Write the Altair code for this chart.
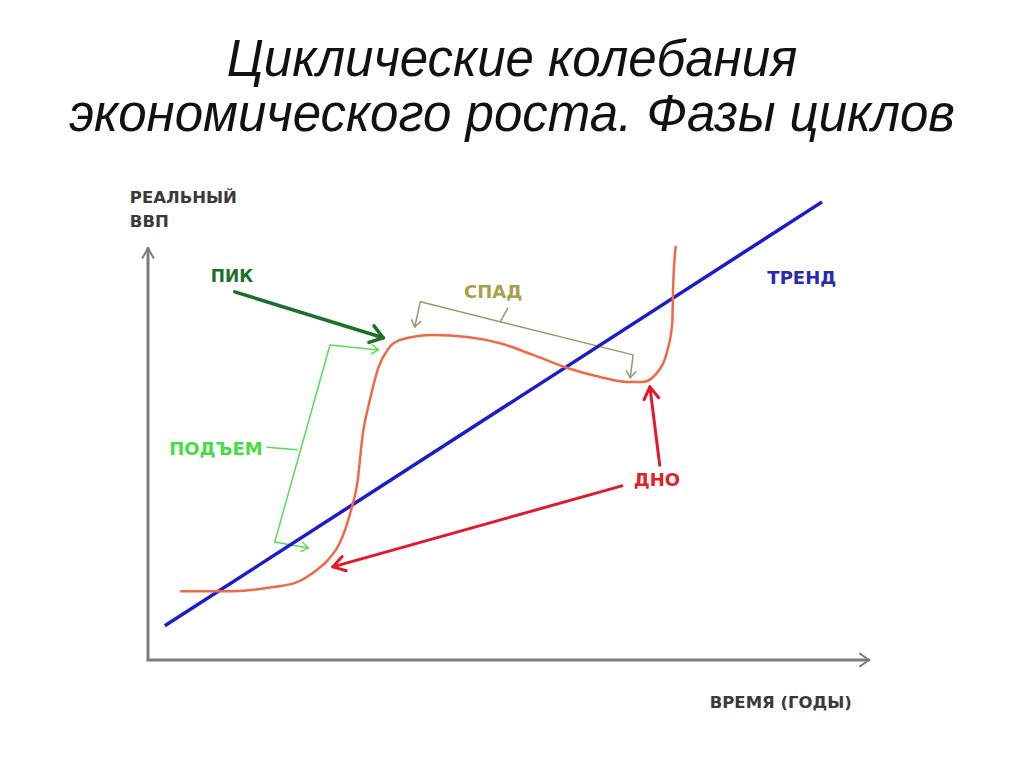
import math
import altair as alt
import pandas as pd

# ---------------- data (time units, real-GDP units) ----------------
TITLE = ["Циклические колебания", "экономического роста. Фазы циклов"]

# business-cycle curve
cycle_t = [4.6, 12.1, 17.9, 21.3, 24.1, 25.7, 27.4, 28.9, 29.9, 30.7, 31.7, 32.9,
           34.3, 36.0, 40.7, 45.6, 50.3, 55.0, 59.9, 64.6, 68.4, 70.7, 72.7, 74.1,
           74.9, 75.0, 75.4]
cycle_g = [15.3, 15.3, 16.2, 17.3, 20.0, 22.2, 26.0, 32.7, 39.3, 50.4, 57.8, 64.9,
           69.1, 71.1, 72.2, 71.8, 70.4, 67.8, 64.9, 62.9, 61.8, 61.8, 63.8, 68.2,
           74.9, 82.2, 92.0]

# trend line
trend_t = [2.4, 96.3]
trend_g = [7.6, 101.8]

# axes
yaxis_t = [0, 0]
yaxis_g = [0, 91.5]
xaxis_t = [0, 103]
xaxis_g = [0, 0]

# annotation arrows / brackets (polylines)
peak_arrow_t = [12.4, 33.6]
peak_arrow_g = [81.8, 71.6]
trough_arrow1_t = [73.1, 71.7]
trough_arrow1_g = [43.3, 60.7]
trough_arrow2_t = [67.7, 26.4]
trough_arrow2_g = [38.7, 20.7]
rise_bracket_t = [32.9, 26.0, 18.1, 22.9]
rise_bracket_g = [68.9, 70.0, 26.2, 24.9]
rise_tick_t = [21.3, 17.0]
rise_tick_g = [46.7, 47.3]
fall_bracket_t = [38.1, 38.9, 69.3, 68.9]
fall_bracket_g = [74.0, 79.6, 67.8, 62.7]
fall_tick_t = [50.3, 51.4]
fall_tick_g = [75.1, 78.2]

# labels
label_text = ["ПИК", "ПОДЪЕМ", "СПАД", "ТРЕНД", "ДНО", "ВРЕМЯ (ГОДЫ)"]
label_t = [12.0, 9.7, 49.3, 93.4, 72.7, 90.4]
label_g = [85.1, 46.7, 81.5, 84.7, 39.8, -9.6]
label_color = ["#1f6e2b", "#44dd44", "#a9a04a", "#2a2ab0", "#e0202a", "#3a3a3a"]
label_size = [17, 18, 18, 18, 18, 16.5]
ylabel_lines = ["РЕАЛЬНЫЙ", "ВВП"]
ylabel_t = [-2.6, -2.6]
ylabel_g = [102.7, 97.3]

# ---------------- layout ----------------
W, H = 1008, 609
T_DOM = [-20, 124]
G_DOM = [-22, 113.33]
KX = W / (T_DOM[1] - T_DOM[0])
KY = H / (G_DOM[1] - G_DOM[0])

AXIS_C = "#7d7d7d"
PEAK_C = "#1f6e2b"
TROUGH_C = "#e3182d"
RISE_C = "#55dd55"
FALL_C = "#8f9c6e"
LABEL_FONT = "DejaVu Sans"

rows = []
gid = [0]


def poly(ts, gs, color, width):
    gid[0] += 1
    for i, (a, b) in enumerate(zip(ts, gs)):
        rows.append(dict(t=a, g=b, id=gid[0], o=i, c=color, w=width))


def head(ts, gs, color, width, length, ang=32, at_start=False):
    if at_start:
        tip_t, tip_g, fr_t, fr_g = ts[0], gs[0], ts[1], gs[1]
    else:
        tip_t, tip_g, fr_t, fr_g = ts[-1], gs[-1], ts[-2], gs[-2]
    dx = (tip_t - fr_t) * KX
    dy = (tip_g - fr_g) * KY
    n = math.hypot(dx, dy)
    ux, uy = dx / n, dy / n
    pts_t, pts_g = [], []
    for s in (1, -1):
        a = math.radians(ang) * s
        rx = ux * math.cos(a) - uy * math.sin(a)
        ry = ux * math.sin(a) + uy * math.cos(a)
        pts_t.append(tip_t - rx * length / KX)
        pts_g.append(tip_g - ry * length / KY)
    poly([pts_t[0], tip_t, pts_t[1]], [pts_g[0], tip_g, pts_g[1]], color, width)


poly(yaxis_t, yaxis_g, AXIS_C, 3)
head(yaxis_t, yaxis_g, AXIS_C, 2, 11, 30)
poly(xaxis_t, xaxis_g, AXIS_C, 3)
head(xaxis_t, xaxis_g, AXIS_C, 2, 11, 35)

poly(peak_arrow_t, peak_arrow_g, PEAK_C, 3.5)
head(peak_arrow_t, peak_arrow_g, PEAK_C, 3.5, 15, 35)
poly(trough_arrow1_t, trough_arrow1_g, TROUGH_C, 3)
head(trough_arrow1_t, trough_arrow1_g, TROUGH_C, 3, 14, 32)
poly(trough_arrow2_t, trough_arrow2_g, TROUGH_C, 3)
head(trough_arrow2_t, trough_arrow2_g, TROUGH_C, 3, 14, 32)

poly(rise_bracket_t, rise_bracket_g, RISE_C, 1.5)
head(rise_bracket_t, rise_bracket_g, RISE_C, 1.5, 8, 35)
head(rise_bracket_t, rise_bracket_g, RISE_C, 1.5, 8, 35, at_start=True)
poly(rise_tick_t, rise_tick_g, RISE_C, 1.5)

poly(fall_bracket_t, fall_bracket_g, FALL_C, 1.5)
head(fall_bracket_t, fall_bracket_g, FALL_C, 1.5, 8, 35)
head(fall_bracket_t, fall_bracket_g, FALL_C, 1.5, 8, 35, at_start=True)
poly(fall_tick_t, fall_tick_g, FALL_C, 1.5)

seg_df = pd.DataFrame(rows)
cycle_df = pd.DataFrame({"t": cycle_t, "g": cycle_g})
trend_df = pd.DataFrame({"t": trend_t, "g": trend_g})
lab_df = pd.DataFrame({"txt": label_text, "t": label_t, "g": label_g,
                       "c": label_color, "s": label_size})
ylab_df = pd.DataFrame({"txt": ylabel_lines, "t": ylabel_t, "g": ylabel_g})

xs = alt.Scale(domain=T_DOM, nice=False, zero=False)
ys = alt.Scale(domain=G_DOM, nice=False, zero=False)
X = lambda f="t": alt.X(f"{f}:Q", scale=xs, axis=None)
Y = lambda f="g": alt.Y(f"{f}:Q", scale=ys, axis=None)

segs = alt.Chart(seg_df).mark_line(strokeCap="round", strokeJoin="round").encode(
    x=X(), y=Y(),
    detail="id:N",
    order="o:Q",
    color=alt.Color("c:N", scale=None),
    strokeWidth=alt.StrokeWidth("w:Q", scale=None),
)

cycle = alt.Chart(cycle_df).mark_line(
    color="#ef6a44", strokeWidth=2.5, interpolate="monotone"
).encode(x=X(), y=Y())

trend = alt.Chart(trend_df).mark_line(color="#1c1cc8", strokeWidth=3.5).encode(x=X(), y=Y())

labels = alt.Chart(lab_df).mark_text(
    font=LABEL_FONT, fontWeight="bold", align="center", baseline="middle"
).encode(
    x=X(), y=Y(), text="txt:N",
    color=alt.Color("c:N", scale=None),
    size=alt.Size("s:Q", scale=None),
)

ylabels = alt.Chart(ylab_df).mark_text(
    font=LABEL_FONT, fontWeight="bold", fontSize=16.5, align="left", baseline="middle",
    color="#3a3a3a"
).encode(x=X(), y=Y(), text="txt:N")

chart = alt.layer(segs, trend, cycle, labels, ylabels).properties(
    width=W,
    height=H,
    background="white",
    title=alt.TitleParams(
        TITLE, font="Liberation Sans", fontSize=51, fontStyle="italic", fontWeight="normal",
        color="#111111", lineHeight=55, anchor="middle", frame="group", baseline="bottom",
        offset=-43,
    ),
    autosize=alt.AutoSizeParams(type="none"),
    padding={"top": 142, "left": 0, "right": 0, "bottom": 0},
).configure_view(strokeWidth=0, stroke="transparent")

chart.save("out.html", embed_options={"renderer": "svg", "actions": False})
